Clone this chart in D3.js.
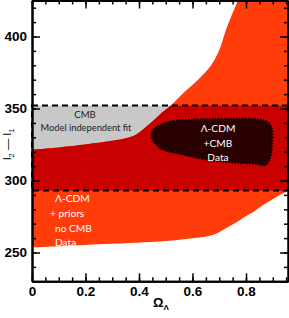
<!DOCTYPE html>
<html><head><meta charset="utf-8">
<script src="https://cdn.jsdelivr.net/npm/d3@7"></script>
<style>
html,body{margin:0;padding:0;background:#fff;}
svg{display:block;}
</style></head>
<body>
<svg id="chart" width="289" height="318"></svg>
<script>
// ---- data ----
const xMajorTicks = [0, 0.2, 0.4, 0.6, 0.8];
const xTickLabels = ["0", "0.2", "0.4", "0.6", "0.8"];
const yMajorTicks = [250, 300, 350, 400];
const yTickLabels = ["250", "300", "350", "400"];
// Lambda-CDM + priors (no CMB) allowed region
const lowerOmega = [0, 0.1, 0.2, 0.3, 0.42, 0.5, 0.6, 0.66, 0.69, 0.72, 0.76, 0.79, 0.83, 0.86, 0.92, 0.96];
const lowerL     = [253.6, 254.4, 255.2, 256, 257.1, 258, 259.9, 261.5, 263.2, 266.3, 270.5, 274.2, 278.5, 282.4, 289.3, 293];
const upperOmega = [0, 0.1, 0.18, 0.28, 0.35, 0.39, 0.43, 0.47, 0.52, 0.57, 0.62, 0.67, 0.70, 0.725, 0.75, 0.77, 0.8];
const upperL     = [321.5, 323, 324.6, 327, 329.3, 332, 337.8, 344.5, 352.4, 361.5, 369.8, 380.2, 390.6, 404.5, 416.3, 425.3, 445];
// CMB model independent fit band
const cmbBand = [293, 352];
// Lambda-CDM + CMB data contour
const blobOmega = [0.479, 0.527, 0.628, 0.73, 0.826, 0.875, 0.895, 0.897, 0.893, 0.875, 0.83, 0.778, 0.665, 0.572, 0.479, 0.449, 0.452];
const blobL     = [338.5, 341.3, 342.4, 342.7, 342.7, 341.2, 337, 325, 317.7, 311, 311.8, 312.2, 314.2, 317.7, 322.6, 329.5, 335];

const x = d3.scaleLinear().domain([0, 0.957]).range([32, 288]);
const y = d3.scaleLinear().domain([230, 425]).range([281.3, 0.5]);

const svg = d3.select("#chart");
const defs = svg.append("defs");
defs.append("clipPath").attr("id", "plotclip").append("rect")
  .attr("x", x(0)).attr("y", y(425)).attr("width", x(0.957) - x(0)).attr("height", y(230) - y(425));
defs.append("clipPath").attr("id", "boxclip").append("rect")
  .attr("x", x(0)).attr("y", y(cmbBand[1])).attr("width", x(0.957) - x(0)).attr("height", y(cmbBand[0]) - y(cmbBand[1]));

const COL_ORANGE = "#ff3c0a", COL_RED = "#c80000", COL_GRAY = "#c8c8c8", COL_DARK = "#2a0000";

const g = svg.append("g").attr("clip-path", "url(#plotclip)");

// gray CMB band
g.append("rect")
  .attr("x", x(0)).attr("y", y(cmbBand[1]))
  .attr("width", x(0.957) - x(0)).attr("height", y(cmbBand[0]) - y(cmbBand[1]))
  .attr("fill", COL_GRAY);

// region polygon: smooth boundaries joined by straight segments outside the frame
const lowPts = lowerOmega.map((o, i) => [o, lowerL[i]]);
const upPts = upperOmega.map((o, i) => [o, upperL[i]]).reverse();
const smooth = d3.line().x(d => x(d[0])).y(d => y(d[1])).curve(d3.curveCatmullRom.alpha(0.5));
const regionPath = smooth(lowPts)
  + "L" + x(1.1) + "," + y(293) + "L" + x(1.1) + "," + y(470) + "L" + x(0.8) + "," + y(470)
  + "L" + smooth(upPts).slice(1)
  + "L" + x(-0.1) + "," + y(upperL[0]) + "L" + x(-0.1) + "," + y(lowerL[0]) + "Z";
g.append("path").attr("d", regionPath).attr("fill", COL_ORANGE);
g.append("g").attr("clip-path", "url(#boxclip)")
  .append("path").attr("d", regionPath).attr("fill", COL_RED);

// CMB + LCDM contour
const blobPts = blobOmega.map((o, i) => [o, blobL[i]]);
const blobLine = d3.line().x(d => x(d[0])).y(d => y(d[1])).curve(d3.curveCatmullRomClosed);
g.append("path").attr("d", blobLine(blobPts))
  .attr("fill", COL_DARK).attr("stroke", "#000").attr("stroke-width", 2)
  .attr("stroke-dasharray", "1.5,1.5");

// dashed box
svg.append("rect")
  .attr("x", x(0)).attr("y", y(cmbBand[1]))
  .attr("width", x(0.957) - x(0)).attr("height", y(cmbBand[0]) - y(cmbBand[1]))
  .attr("fill", "none").attr("stroke", "#000").attr("stroke-width", 2)
  .attr("stroke-dasharray", "6,4");

// labels inside
const txtFont = "Lato, 'Open Sans', sans-serif";
function label(tx, ty, s, col, anchor, fs) {
  svg.append("text").attr("x", tx).attr("y", ty).text(s)
    .attr("fill", col).attr("font-family", txtFont).attr("font-size", fs || 10.2)
    .attr("text-anchor", anchor || "start");
}
label(85, 118, "CMB", "#222", "middle", 9.6);
label(86, 131, "Model independent fit", "#222", "middle", 9.3);
label(218, 132, "Λ-CDM", "#fff", "middle");
label(218, 147, "+CMB", "#fff", "middle");
label(218, 161, "Data", "#fff", "middle");
label(55, 202, "Λ-CDM", "#fff");
label(50, 217, "+ priors", "#fff");
label(55, 232, "no CMB", "#fff");
label(55, 246, "Data", "#fff");

// axes
const xMinor = d3.range(0, 0.96, 0.05);
const yMinor = d3.range(230, 430, 10);
const axFont = "'Liberation Sans', Arial, sans-serif";
function styleAxis(sel, lw) {
  sel.selectAll("path.domain").attr("stroke-width", 2).attr("stroke", "#000");
  sel.selectAll(".tick line").attr("stroke-width", lw).attr("stroke", "#000");
  sel.selectAll("text").attr("font-family", axFont).attr("font-size", 13.5)
    .attr("font-weight", "bold").attr("fill", "#000");
}
let a;
// bottom
a = svg.append("g").attr("transform", `translate(0,${y(230)})`)
  .call(d3.axisBottom(x).tickValues(xMinor).tickSize(-4).tickSizeOuter(0).tickFormat(""));
styleAxis(a, 1.5);
a = svg.append("g").attr("transform", `translate(0,${y(230)})`)
  .call(d3.axisBottom(x).tickValues(xMajorTicks).tickSize(-8).tickSizeOuter(0).tickPadding(5)
    .tickFormat((d, i) => xTickLabels[i]));
styleAxis(a, 1.5);
// top
a = svg.append("g").attr("transform", `translate(0,${y(425)})`)
  .call(d3.axisTop(x).tickValues(xMinor).tickSize(-4).tickSizeOuter(0).tickFormat(""));
styleAxis(a, 1.5);
a = svg.append("g").attr("transform", `translate(0,${y(425)})`)
  .call(d3.axisTop(x).tickValues(xMajorTicks).tickSize(-8).tickSizeOuter(0).tickFormat(""));
styleAxis(a, 1.5);
// left
a = svg.append("g").attr("transform", `translate(${x(0)},0)`)
  .call(d3.axisLeft(y).tickValues(yMinor).tickSize(-4).tickSizeOuter(0).tickFormat(""));
styleAxis(a, 1.5);
a = svg.append("g").attr("transform", `translate(${x(0)},0)`)
  .call(d3.axisLeft(y).tickValues(yMajorTicks).tickSize(-8).tickSizeOuter(0).tickPadding(5)
    .tickFormat((d, i) => yTickLabels[i]));
styleAxis(a, 1.5);
// right
a = svg.append("g").attr("transform", `translate(${x(0.957)},0)`)
  .call(d3.axisRight(y).tickValues(yMinor).tickSize(-4).tickSizeOuter(0).tickFormat(""));
styleAxis(a, 1.5);
a = svg.append("g").attr("transform", `translate(${x(0.957)},0)`)
  .call(d3.axisRight(y).tickValues(yMajorTicks).tickSize(-8).tickSizeOuter(0).tickFormat(""));
styleAxis(a, 1.5);

// axis titles
const xt = svg.append("text").attr("x", 153).attr("y", 307)
  .attr("font-family", axFont).attr("font-size", 13).attr("font-weight", "bold");
xt.append("tspan").text("Ω");
xt.append("tspan").attr("dy", 3).attr("font-size", 8).text("Λ");

const yt = svg.append("text").attr("transform", "translate(11,160) rotate(-90)")
  .attr("font-family", axFont).attr("font-size", 11.5);
yt.append("tspan").text("l");
yt.append("tspan").attr("dy", 3).attr("font-size", 7.5).text("2");
yt.append("tspan").attr("dy", -3).text(" — l");
yt.append("tspan").attr("dy", 3).attr("font-size", 7.5).text("1");
</script>
</body></html>
